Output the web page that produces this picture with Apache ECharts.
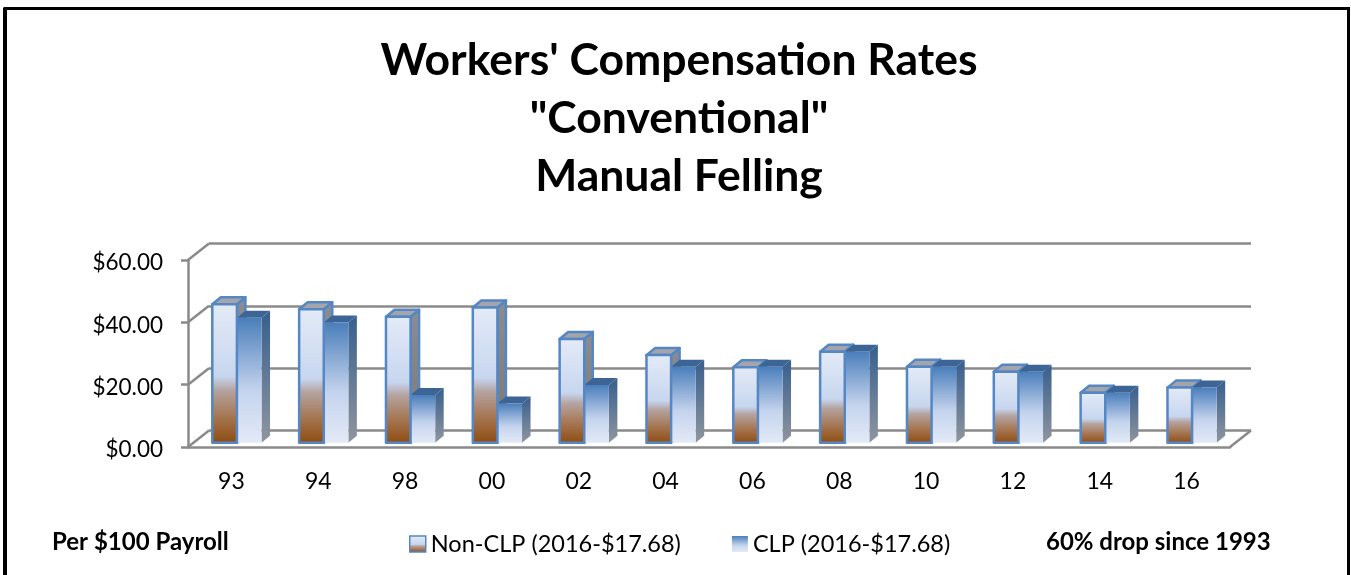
<!DOCTYPE html>
<html>
<head>
<meta charset="utf-8">
<style>
html, body { margin: 0; padding: 0; background: #fff; }
#main { width: 1351px; height: 575px; }
</style>
<script src="https://cdn.jsdelivr.net/npm/echarts@6/dist/echarts.min.js"></script>
</head>
<body>
<div id="main"></div>
<script>
const categories = ['93', '94', '98', '00', '02', '04', '06', '08', '10', '12', '14', '16'];
const nonClp = [44.4, 42.8, 40.4, 43.4, 33.3, 28.1, 24.2, 29.2, 24.4, 22.8, 16.0, 17.68];
const clp = [40.1, 38.6, 15.3, 12.6, 18.5, 24.4, 24.4, 29.2, 24.4, 22.8, 16.0, 17.68];
const yTicks = [0, 20, 40, 60];

const FONT = 'Lato';
const LINE = '#8a8a8a';
// 3d look: wall depth, bar inset from the front and bar depth
const WALL_DX = 21, WALL_DY = 16.5;
const INSET_DX = 5.5, INSET_DY = 4.3;
const BAR_DX = 8.5, BAR_DY = 7;
const GAP = 18.8;

function vGrad(stops) {
    return new echarts.graphic.LinearGradient(0, 0, 0, 1,
        stops.map(([offset, color]) => ({ offset, color })));
}

const nonClpFront = [[0, '#e4ebf7'], [0.52, '#c7d6ef'], [0.62, '#b5a3a0'], [0.81, '#a57550'], [1, '#8e4a0e']];
const clpFront = [[0, '#4a7ebb'], [0.58, '#c4d3ed'], [1, '#e3eaf7']];

// one 3d column, slot 0 on the left and slot 1 on the right of its category
function barRenderer(slot) {
    return function (params, api) {
        const idx = api.value(0);
        const top = api.coord([idx, api.value(1)]);
        const base = api.coord([idx, 0]);
        const catW = api.size([1, 0])[0];
        const w = (catW - 2 * GAP) / 2;
        const x0 = base[0] - catW / 2 + GAP + INSET_DX + slot * w;
        const x1 = x0 + w;
        const yt = top[1] - INSET_DY;
        const yb = base[1] - INSET_DY;
        const outline = slot === 0 ? { stroke: '#5487c4', lineWidth: 2.5, lineJoin: 'round' } : {};
        const sideFill = slot === 0 ? vGrad([[0, '#8b8d93'], [1, '#7b7674']]) : vGrad([[0, '#375f8e'], [1, '#8f959e']]);
        const topFill = slot === 0 ? '#a4a5aa' : '#3c6595';
        return {
            type: 'group',
            children: [
                {
                    type: 'polygon',
                    z2: slot === 0 ? 1 : 2,
                    shape: { points: [[x1, yt], [x1 + BAR_DX, yt - BAR_DY], [x1 + BAR_DX, yb - BAR_DY], [x1, yb]] },
                    style: Object.assign({ fill: sideFill }, outline)
                },
                {
                    type: 'polygon',
                    z2: slot === 0 ? 1 : 2,
                    shape: { points: [[x0, yt], [x0 + BAR_DX, yt - BAR_DY], [x1 + BAR_DX, yt - BAR_DY], [x1, yt]] },
                    style: Object.assign({ fill: topFill }, outline)
                },
                {
                    type: 'rect',
                    z2: slot === 0 ? 3 : 2,
                    shape: { x: x0, y: yt, width: w, height: yb - yt },
                    style: Object.assign({ fill: vGrad(slot === 0 ? nonClpFront : clpFront) }, outline)
                }
            ]
        };
    };
}

// the slanted lines joining the front axis to the back wall
function wallRenderer(params, api) {
    const idx = api.value(0);
    const left = api.coord([0, yTicks[idx]]);
    const catW = api.size([1, 0])[0];
    const x = left[0] - catW / 2;
    const children = [{
        type: 'line',
        shape: { x1: x, y1: left[1], x2: x + WALL_DX, y2: left[1] - WALL_DY },
        style: { stroke: LINE, lineWidth: 2.5 }
    }];
    if (yTicks[idx] === 0) {
        const xEnd = x + catW * categories.length;
        children.push({
            type: 'line',
            shape: { x1: xEnd, y1: left[1], x2: xEnd + WALL_DX, y2: left[1] - WALL_DY },
            style: { stroke: LINE, lineWidth: 2.5 }
        });
    }
    return { type: 'group', children };
}

const chart = echarts.init(document.getElementById('main'), null, { renderer: 'canvas' });
chart.setOption({
    animation: false,
    backgroundColor: '#fff',
    textStyle: { fontFamily: FONT },
    title: {
        text: "Workers' Compensation Rates\n\"Conventional\"\nManual Felling",
        left: 674,
        top: 27,
        textAlign: 'center',
        textStyle: { fontFamily: FONT, fontSize: 44.5, fontWeight: 'bold', color: '#000', lineHeight: 58 }
    },
    legend: {
        left: 404,
        top: 527,
        itemWidth: 16,
        itemHeight: 16,
        itemGap: 51,
        textStyle: { fontFamily: FONT, fontSize: 23.5, color: '#000' },
        data: [
            { name: 'Non-CLP (2016-$17.68)', icon: 'rect', itemStyle: { color: vGrad(nonClpFront), borderColor: '#5487c4', borderWidth: 1.5 } },
            { name: 'CLP (2016-$17.68)', icon: 'rect', itemStyle: { color: vGrad(clpFront), borderWidth: 0 } }
        ]
    },
    grid: [
        { left: 188, top: 260, width: 1042, height: 187 },
        { left: 188 + WALL_DX, top: 260 - WALL_DY, width: 1042, height: 187 }
    ],
    xAxis: [
        {
            type: 'category',
            gridIndex: 0,
            data: categories,
            axisLine: { lineStyle: { color: LINE, width: 2.5 } },
            axisTick: { length: 8, lineStyle: { color: LINE, width: 2.5 } },
            axisLabel: { color: '#000', fontFamily: FONT, fontSize: 23, margin: 23 }
        },
        { type: 'category', gridIndex: 1, data: categories, show: false }
    ],
    yAxis: [
        {
            type: 'value',
            gridIndex: 0,
            min: 0,
            max: 60,
            interval: 20,
            splitLine: { show: false },
            axisLine: { show: true, lineStyle: { color: LINE, width: 2.5 } },
            axisTick: { show: true, length: 7, lineStyle: { color: LINE, width: 2.5 } },
            axisLabel: {
                color: '#000', fontFamily: FONT, fontSize: 22.5, margin: 25, verticalAlign: 'top', lineHeight: 6,
                formatter: (v) => '$' + v.toFixed(2)
            }
        },
        {
            type: 'value',
            gridIndex: 1,
            min: 0,
            max: 60,
            interval: 20,
            axisLine: { show: false },
            axisTick: { show: false },
            axisLabel: { show: false },
            splitLine: { show: true, lineStyle: { color: LINE, width: 2.5 } }
        }
    ],
    series: [
        {
            type: 'custom',
            name: 'walls',
            silent: true,
            xAxisIndex: 0,
            yAxisIndex: 0,
            renderItem: wallRenderer,
            encode: { x: 0, y: 1 },
            clip: false,
            data: yTicks.map((t, i) => [i, t])
        },
        {
            type: 'custom',
            name: 'Non-CLP (2016-$17.68)',
            xAxisIndex: 0,
            yAxisIndex: 0,
            renderItem: barRenderer(0),
            encode: { x: 0, y: 1 },
            clip: false,
            itemStyle: { color: '#c7d6ef' },
            data: nonClp.map((v, i) => [i, v])
        },
        {
            type: 'custom',
            name: 'CLP (2016-$17.68)',
            xAxisIndex: 0,
            yAxisIndex: 0,
            renderItem: barRenderer(1),
            encode: { x: 0, y: 1 },
            clip: false,
            itemStyle: { color: '#4a7ebb' },
            data: clp.map((v, i) => [i, v])
        }
    ],
    graphic: [
        { type: 'rect', z: 100, shape: { x: 5, y: 8.5, width: 1343.5, height: 570 }, style: { fill: 'transparent', stroke: '#000', lineWidth: 3 } },
        { type: 'rect', z: 100, shape: { x: 3, y: 8, width: 4, height: 567 }, style: { fill: '#000' } },
        { type: 'text', x: 52, y: 530, style: { text: 'Per $100 Payroll', fontFamily: FONT, fontSize: 24, fontWeight: 'bold', fill: '#000' } },
        { type: 'text', x: 1046, y: 530, style: { text: '60% drop since 1993', fontFamily: FONT, fontSize: 24, fontWeight: 'bold', fill: '#000' } }
    ]
});
</script>
</body>
</html>
